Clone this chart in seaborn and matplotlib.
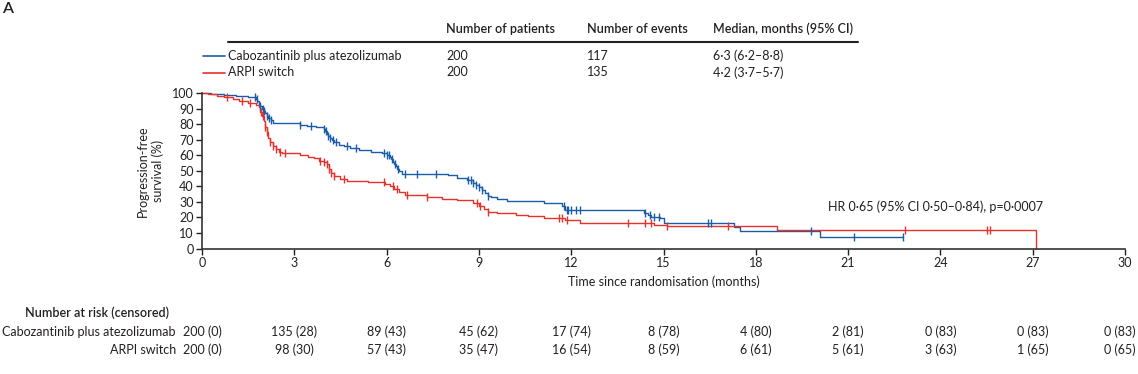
import numpy as np
import pandas as pd
import matplotlib
matplotlib.use("Agg")
import matplotlib.pyplot as plt
import matplotlib.transforms as mtransforms
from matplotlib.lines import Line2D
import seaborn as sns

# Kaplan-Meier step points (months, % progression-free)
cabo_time = [0, 0.3, 0.7, 1.1, 1.5, 1.75, 1.8, 1.85, 1.9, 1.95, 2.0, 2.05, 2.1, 2.15,
             2.25, 2.32, 3.2, 3.4, 3.7, 3.95, 4.0, 4.05, 4.1, 4.15, 4.22, 4.3, 4.45,
             4.6, 4.8, 5.1, 5.5, 5.85, 6.0, 6.1, 6.15, 6.2, 6.25, 6.3, 6.35, 6.4, 6.5,
             8.0, 8.3, 8.6, 8.8, 8.9, 9.0, 9.1, 9.2, 9.3, 9.4, 9.6, 9.9, 11.1, 11.7,
             11.8, 14.35, 14.5, 14.6, 14.9, 15.0, 17.3, 17.5, 20.1, 22.8]
cabo_surv = [100, 99.5, 99, 98.5, 97.5, 96.5, 95, 93, 91.5, 90, 88.5, 87, 85.5, 84,
             82.5, 80.7, 79.8, 79, 78, 77, 75.5, 74, 72.5, 71, 70, 68.5, 67,
             65.8, 64.6, 63.5, 62.4, 61.3, 60.2, 59, 57.5, 56, 54.5, 53, 51.5, 49.8, 48.2,
             47.3, 45.5, 44.4, 42.5, 41, 39.5, 38, 36, 34, 33, 31.8, 30.3, 29.2, 27.5,
             24.8, 23.1, 21.5, 20.5, 19.4, 16.2, 13.8, 11.4, 7.3, 7.3]
cabo_censor = [1.72, 1.78, 1.9, 1.97, 2.03, 2.1, 2.18, 2.25, 3.2, 3.55, 3.95, 4.02,
               4.1, 4.17, 4.25, 4.35, 4.7, 5.0, 5.9, 6.0, 6.08, 6.18, 6.28, 6.38, 6.6,
               7.0, 7.6, 8.65, 8.75, 8.82, 8.9, 9.0, 9.1, 9.3, 11.75, 11.85, 11.9, 12.0,
               12.15, 12.3, 14.4, 14.55, 14.7, 14.85, 16.45, 16.55, 19.8, 21.2, 22.8]

arpi_time = [0, 0.2, 0.5, 0.7, 1.0, 1.2, 1.5, 1.75, 1.85, 1.9, 1.95, 2.0, 2.05, 2.1,
             2.15, 2.2, 2.3, 2.4, 2.5, 2.6, 3.2, 3.45, 3.65, 3.8, 3.95, 4.05, 4.12,
             4.18, 4.3, 4.5, 4.7, 5.4, 5.95, 6.1, 6.25, 6.4, 6.6, 7.3, 7.8, 8.3, 8.8,
             9.0, 9.15, 9.3, 9.6, 10.2, 10.6, 11.1, 11.8, 12.3, 14.7, 15.1, 18.7,
             27.1, 27.1]
arpi_surv = [100, 99.5, 98.5, 97.5, 96.5, 95.3, 93.5, 92.5, 91.2, 88, 85.5, 82, 78.5, 75,
             71.5, 68.5, 66, 64, 62.5, 61.3, 60.3, 59.2, 58, 56.7, 55.5, 54.5, 51.5,
             48.5, 46.5, 44.8, 43.8, 42.8, 41.8, 40, 38.3, 36.5, 34.5, 33.4, 32.2, 31, 29.6,
             27.5, 25.5, 23.8, 22.8, 21.8, 20.7, 19.4, 18.3, 16.2, 15.3, 14.2, 12.0,
             12.0, 0]
arpi_censor = [0.8, 1.3, 1.55, 1.92, 1.98, 2.05, 2.12, 2.2, 2.3, 2.42, 2.55, 2.7, 3.85,
               3.95, 4.05, 4.12, 4.2, 4.3, 4.6, 5.9, 6.2, 6.35, 6.65, 7.3, 8.95, 9.05,
               9.3, 11.6, 11.7, 11.85, 13.85, 14.4, 14.6, 15.1, 17.1, 22.85, 25.5, 25.6]

arms = ["Cabozantinib plus atezolizumab", "ARPI switch"]
n_patients = ["200", "200"]
n_events = ["117", "135"]
medians = ["6\u00b73 (6\u00b72\u20138\u00b78)", "4\u00b72 (3\u00b77\u20135\u00b77)"]
hr_text = "HR 0\u00b765 (95% CI 0\u00b750\u20130\u00b784), p=0\u00b70007"

risk_months = [0, 3, 6, 9, 12, 15, 18, 21, 24, 27, 30]
cabo_risk = ["200 (0)", "135 (28)", "89 (43)", "45 (62)", "17 (74)", "8 (78)",
             "4 (80)", "2 (81)", "0 (83)", "0 (83)", "0 (83)"]
arpi_risk = ["200 (0)", "98 (30)", "57 (43)", "35 (47)", "16 (54)", "8 (59)",
             "6 (61)", "5 (61)", "3 (63)", "1 (65)", "0 (65)"]

BLUE = "#1b5ca8"
RED = "#e5322b"
INK = "#231f20"

sns.set_style("ticks")
plt.rcParams["font.family"] = ["Lato", "DejaVu Sans"]
plt.rcParams["font.size"] = 9
plt.rcParams["text.color"] = INK
plt.rcParams["axes.labelcolor"] = INK
plt.rcParams["xtick.color"] = INK
plt.rcParams["ytick.color"] = INK

W, H = 1138, 374
fig = plt.figure(figsize=(W / 100, H / 100), dpi=100)


def fx(px):
    return px / W


def fy(py):
    return 1 - py / H


ax = fig.add_axes([fx(202), fy(248.5), fx(1125) - fx(202), fy(93.3) - fy(248.5)])

curves = [
    (cabo_time, cabo_surv, cabo_censor, BLUE),
    (arpi_time, arpi_surv, arpi_censor, RED),
]
for t, s, cens, col in curves:
    t = np.asarray(t)
    s = np.asarray(s)
    sns.lineplot(x=t, y=s, ax=ax, color=col, lw=1.0, drawstyle="steps-post",
                 sort=False, estimator=None, clip_on=False)
    idx = np.searchsorted(t, cens, side="right") - 1
    cdf = pd.DataFrame({"t": cens, "s": s[idx]})
    sns.scatterplot(data=cdf, x="t", y="s", ax=ax, color=col, marker="|", s=30,
                    linewidth=1.0, clip_on=False, zorder=3)

ax.set_xlim(0, 30)
ax.set_ylim(0, 100)
ax.set_xticks(range(0, 31, 3))
ax.set_yticks(range(0, 101, 10))
ax.tick_params(direction="out", length=4, width=1.0, labelsize=9, pad=2)
for side in ["left", "bottom"]:
    ax.spines[side].set_linewidth(1.2)
    ax.spines[side].set_color("#333333")
sns.despine(ax=ax)
ax.set_xlabel("Time since randomisation (months)", fontsize=9, labelpad=5)
ax.set_ylabel("Progression-free\nsurvival (%)", fontsize=9, labelpad=6)
ax.text(20.35, 27, hr_text, fontsize=9, ha="left", va="center")

# panel letter
fig.text(fx(2), fy(9), "A", fontsize=11.5, fontweight="semibold", va="center")

# header table
fig.add_artist(Line2D([fx(228), fx(858)], [fy(41.5), fy(41.5)], color="#222222", lw=1.5))
cols_x = [446, 587, 713]
for x, h in zip(cols_x, ["Number of patients", "Number of events", "Median, months (95% CI)"]):
    fig.text(fx(x), fy(29), h, fontsize=9, fontweight="semibold", va="center")
for row_y, arm, n, e, m, col in zip([56, 72.5], arms, n_patients, n_events, medians, [BLUE, RED]):
    fig.add_artist(Line2D([fx(203), fx(225)], [fy(row_y), fy(row_y)], color=col, lw=1.2))
    fig.text(fx(228), fy(row_y), arm, fontsize=9, va="center")
    fig.text(fx(cols_x[0]), fy(row_y), n, fontsize=9, va="center")
    fig.text(fx(cols_x[1]), fy(row_y), e, fontsize=9, va="center")
    fig.text(fx(cols_x[2]), fy(row_y), m, fontsize=9, va="center")

# number at risk table
trans = mtransforms.blended_transform_factory(ax.transData, fig.transFigure)
fig.text(fx(25), fy(313), "Number at risk (censored)", fontsize=9,
         fontweight="semibold", va="center")
for row_y, arm, vals in zip([332, 350], arms, [cabo_risk, arpi_risk]):
    fig.text(fx(176), fy(row_y), arm, fontsize=9, ha="right", va="center")
    for m, v in zip(risk_months, vals):
        if m == risk_months[-1]:
            # last column kept inside the figure edge
            fig.text(fx(1136), fy(row_y), v, fontsize=9, ha="right", va="center")
        else:
            ax.text(m, fy(row_y), v, transform=trans, fontsize=9, ha="center",
                    va="center", clip_on=False)

fig.savefig("out.png", dpi=100)
